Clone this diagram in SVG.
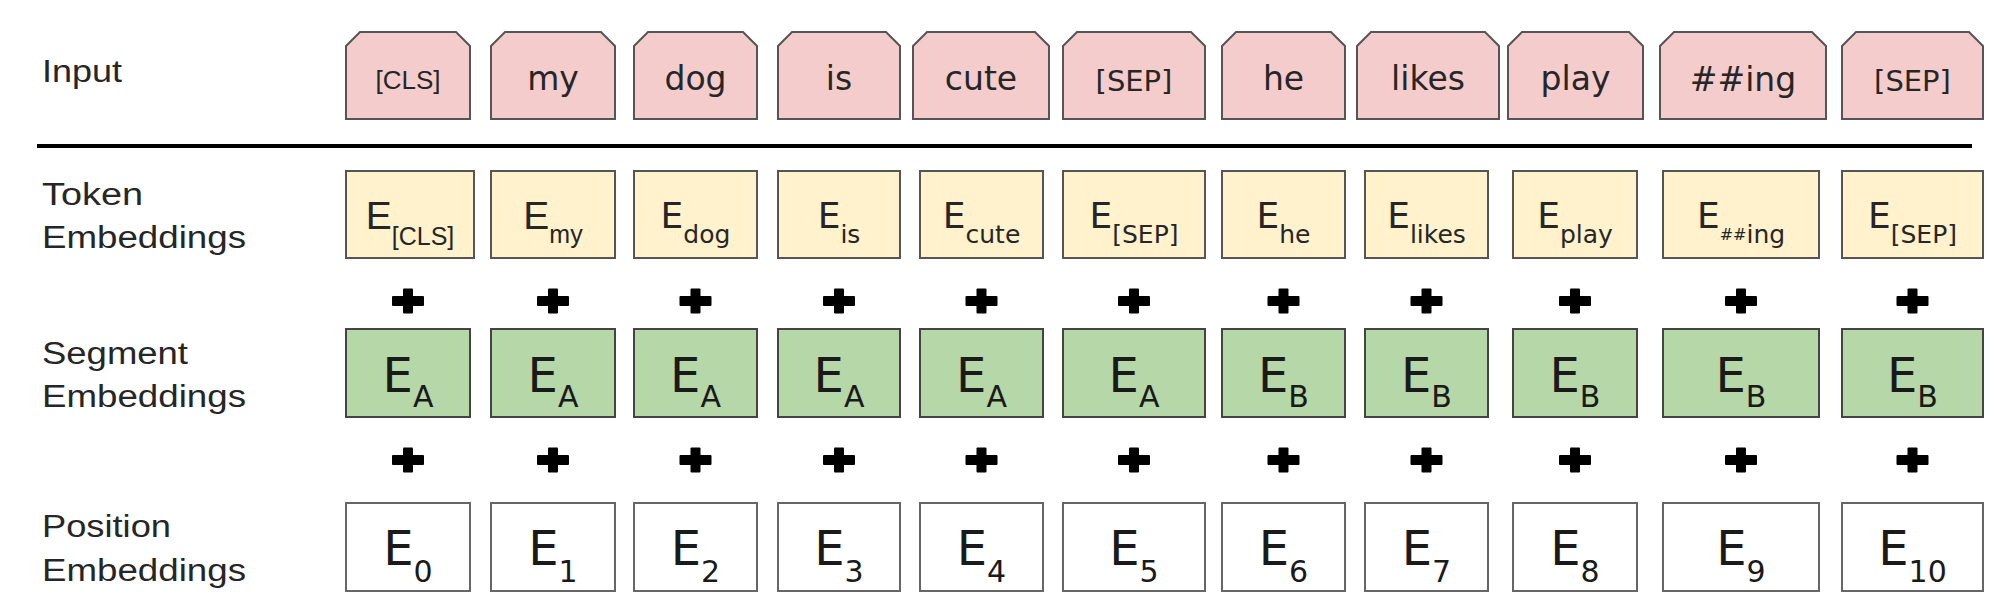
<svg xmlns="http://www.w3.org/2000/svg" xmlns:xlink="http://www.w3.org/1999/xlink" width="2000" height="608" viewBox="0 0 2000 608">
<style>
.lbl{font-family:"Liberation Sans",Arial,sans-serif;font-size:31px;fill:#262626;}
.in{fill:#f4cccc;stroke:#555;stroke-width:2;}
.tok{fill:#fff2cc;stroke:#555;stroke-width:2;}
.seg{fill:#b6d7a8;stroke:#444;stroke-width:2;}
.pos{fill:#ffffff;stroke:#666;stroke-width:2;}
.w{font-family:"DejaVu Sans",Verdana,sans-serif;font-size:33px;fill:#262626;text-anchor:middle;}
.sep{font-size:29px;}
.cls{font-family:"Liberation Sans",Arial,sans-serif;font-size:26px;}
.te{font-family:"DejaVu Sans",Verdana,sans-serif;font-size:36px;fill:#262626;text-anchor:middle;}
.ta{font-family:"Liberation Sans",Arial,sans-serif;font-size:39px;}
.big{font-family:"DejaVu Sans",Verdana,sans-serif;font-size:48px;fill:#1a1a1a;text-anchor:middle;}
.sub{font-size:25px;}
.bsub{font-size:30px;}
</style>
<defs>
<g id="plus"><rect x="-16" y="-5" width="32" height="10" rx="1"/><rect x="-5" y="-12.5" width="10" height="25" rx="1"/></g>
</defs>
<rect width="2000" height="608" fill="#ffffff"/>

<g id="labels">
<text class="lbl" x="42" y="82" textLength="80" lengthAdjust="spacingAndGlyphs">Input</text>
<text class="lbl" x="42" y="205" textLength="101" lengthAdjust="spacingAndGlyphs">Token</text>
<text class="lbl" x="42" y="248" textLength="204" lengthAdjust="spacingAndGlyphs">Embeddings</text>
<text class="lbl" x="42" y="364" textLength="146" lengthAdjust="spacingAndGlyphs">Segment</text>
<text class="lbl" x="42" y="407" textLength="204" lengthAdjust="spacingAndGlyphs">Embeddings</text>
<text class="lbl" x="42" y="537" textLength="129" lengthAdjust="spacingAndGlyphs">Position</text>
<text class="lbl" x="42" y="581" textLength="204" lengthAdjust="spacingAndGlyphs">Embeddings</text>
</g>

<line id="separator" x1="37" y1="146" x2="1972" y2="146" stroke="#000" stroke-width="4"/>

<!-- Input tokens -->
<g id="input-cls"><path class="in" d="M346,46 L360,32 L456,32 L470,46 L470,119 L346,119 Z"/><text class="w cls" x="408" y="89">[CLS]</text></g>
<g id="input-my"><path class="in" d="M491,46 L505,32 L601,32 L615,46 L615,119 L491,119 Z"/><text class="w" x="553" y="90">my</text></g>
<g id="input-dog"><path class="in" d="M634,46 L648,32 L743,32 L757,46 L757,119 L634,119 Z"/><text class="w" x="695.5" y="90">dog</text></g>
<g id="input-is"><path class="in" d="M778,46 L792,32 L886,32 L900,46 L900,119 L778,119 Z"/><text class="w" x="839" y="90">is</text></g>
<g id="input-cute"><path class="in" d="M913,46 L927,32 L1035,32 L1049,46 L1049,119 L913,119 Z"/><text class="w" x="981" y="90">cute</text></g>
<g id="input-sep1"><path class="in" d="M1063,46 L1077,32 L1191,32 L1205,46 L1205,119 L1063,119 Z"/><text class="w sep" x="1134" y="91">[SEP]</text></g>
<g id="input-he"><path class="in" d="M1222,46 L1236,32 L1331,32 L1345,46 L1345,119 L1222,119 Z"/><text class="w" x="1283.5" y="90">he</text></g>
<g id="input-likes"><path class="in" d="M1357,46 L1371,32 L1485,32 L1499,46 L1499,119 L1357,119 Z"/><text class="w" x="1428" y="90">likes</text></g>
<g id="input-play"><path class="in" d="M1508,46 L1522,32 L1629,32 L1643,46 L1643,119 L1508,119 Z"/><text class="w" x="1575.5" y="90">play</text></g>
<g id="input-ing"><path class="in" d="M1660,46 L1674,32 L1812,32 L1826,46 L1826,119 L1660,119 Z"/><text class="w" x="1743" y="91">##ing</text></g>
<g id="input-sep2"><path class="in" d="M1842,46 L1856,32 L1969,32 L1983,46 L1983,119 L1842,119 Z"/><text class="w sep" x="1912.5" y="91">[SEP]</text></g>

<!-- Token embeddings -->
<g id="tok-cls"><rect class="tok" x="346" y="171" width="128" height="87"/><text class="te ta" x="410" y="229">E<tspan class="sub" dy="16">[CLS]</tspan></text></g>
<g id="tok-my"><rect class="tok" x="491" y="171" width="124" height="87"/><text class="te ta" x="553" y="229">E<tspan class="sub" font-size="26" dy="14">my</tspan></text></g>
<g id="tok-dog"><rect class="tok" x="634" y="171" width="123" height="87"/><text class="te" x="695.5" y="228">E<tspan class="sub" dy="15">dog</tspan></text></g>
<g id="tok-is"><rect class="tok" x="778" y="171" width="122" height="87"/><text class="te" x="839" y="228">E<tspan class="sub" dy="15">is</tspan></text></g>
<g id="tok-cute"><rect class="tok" x="920" y="171" width="123" height="87"/><text class="te" x="981.5" y="228">E<tspan class="sub" dy="15">cute</tspan></text></g>
<g id="tok-sep1"><rect class="tok" x="1063" y="171" width="142" height="87"/><text class="te" x="1134" y="228">E<tspan class="sub" dy="15">[SEP]</tspan></text></g>
<g id="tok-he"><rect class="tok" x="1222" y="171" width="123" height="87"/><text class="te" x="1283.5" y="228">E<tspan class="sub" dy="15">he</tspan></text></g>
<g id="tok-likes"><rect class="tok" x="1365" y="171" width="123" height="87"/><text class="te" x="1426.5" y="228">E<tspan class="sub" dy="15">likes</tspan></text></g>
<g id="tok-play"><rect class="tok" x="1513" y="171" width="124" height="87"/><text class="te" x="1575" y="228">E<tspan class="sub" dy="15">play</tspan></text></g>
<g id="tok-ing"><rect class="tok" x="1663" y="171" width="156" height="87"/><text class="te" x="1741" y="228">E<tspan font-size="16" dy="12">##</tspan><tspan class="sub" dy="3">ing</tspan></text></g>
<g id="tok-sep2"><rect class="tok" x="1842" y="171" width="141" height="87"/><text class="te" x="1912.5" y="228">E<tspan class="sub" dy="15">[SEP]</tspan></text></g>

<!-- Segment embeddings -->
<g id="seg-1"><rect class="seg" x="346" y="329" width="124" height="88"/><text class="big" x="408" y="392">E<tspan class="bsub" dy="15">A</tspan></text></g>
<g id="seg-2"><rect class="seg" x="491" y="329" width="124" height="88"/><text class="big" x="553" y="392">E<tspan class="bsub" dy="15">A</tspan></text></g>
<g id="seg-3"><rect class="seg" x="634" y="329" width="123" height="88"/><text class="big" x="695.5" y="392">E<tspan class="bsub" dy="15">A</tspan></text></g>
<g id="seg-4"><rect class="seg" x="778" y="329" width="122" height="88"/><text class="big" x="839" y="392">E<tspan class="bsub" dy="15">A</tspan></text></g>
<g id="seg-5"><rect class="seg" x="920" y="329" width="123" height="88"/><text class="big" x="981.5" y="392">E<tspan class="bsub" dy="15">A</tspan></text></g>
<g id="seg-6"><rect class="seg" x="1063" y="329" width="142" height="88"/><text class="big" x="1134" y="392">E<tspan class="bsub" dy="15">A</tspan></text></g>
<g id="seg-7"><rect class="seg" x="1222" y="329" width="123" height="88"/><text class="big" x="1283.5" y="392">E<tspan class="bsub" dy="15">B</tspan></text></g>
<g id="seg-8"><rect class="seg" x="1365" y="329" width="123" height="88"/><text class="big" x="1426.5" y="392">E<tspan class="bsub" dy="15">B</tspan></text></g>
<g id="seg-9"><rect class="seg" x="1513" y="329" width="124" height="88"/><text class="big" x="1575" y="392">E<tspan class="bsub" dy="15">B</tspan></text></g>
<g id="seg-10"><rect class="seg" x="1663" y="329" width="156" height="88"/><text class="big" x="1741" y="392">E<tspan class="bsub" dy="15">B</tspan></text></g>
<g id="seg-11"><rect class="seg" x="1842" y="329" width="141" height="88"/><text class="big" x="1912.5" y="392">E<tspan class="bsub" dy="15">B</tspan></text></g>

<!-- Position embeddings -->
<g id="pos-0"><rect class="pos" x="346" y="503" width="124" height="88"/><text class="big" x="408" y="565">E<tspan class="bsub" dy="17">0</tspan></text></g>
<g id="pos-1"><rect class="pos" x="491" y="503" width="124" height="88"/><text class="big" x="553" y="565">E<tspan class="bsub" dy="17">1</tspan></text></g>
<g id="pos-2"><rect class="pos" x="634" y="503" width="123" height="88"/><text class="big" x="695.5" y="565">E<tspan class="bsub" dy="17">2</tspan></text></g>
<g id="pos-3"><rect class="pos" x="778" y="503" width="122" height="88"/><text class="big" x="839" y="565">E<tspan class="bsub" dy="17">3</tspan></text></g>
<g id="pos-4"><rect class="pos" x="920" y="503" width="123" height="88"/><text class="big" x="981.5" y="565">E<tspan class="bsub" dy="17">4</tspan></text></g>
<g id="pos-5"><rect class="pos" x="1063" y="503" width="142" height="88"/><text class="big" x="1134" y="565">E<tspan class="bsub" dy="17">5</tspan></text></g>
<g id="pos-6"><rect class="pos" x="1222" y="503" width="123" height="88"/><text class="big" x="1283.5" y="565">E<tspan class="bsub" dy="17">6</tspan></text></g>
<g id="pos-7"><rect class="pos" x="1365" y="503" width="123" height="88"/><text class="big" x="1426.5" y="565">E<tspan class="bsub" dy="17">7</tspan></text></g>
<g id="pos-8"><rect class="pos" x="1513" y="503" width="124" height="88"/><text class="big" x="1575" y="565">E<tspan class="bsub" dy="17">8</tspan></text></g>
<g id="pos-9"><rect class="pos" x="1663" y="503" width="156" height="88"/><text class="big" x="1741" y="565">E<tspan class="bsub" dy="17">9</tspan></text></g>
<g id="pos-10"><rect class="pos" x="1842" y="503" width="141" height="88"/><text class="big" x="1912.5" y="565">E<tspan class="bsub" dy="17">10</tspan></text></g>

<!-- plus operators between rows -->
<g id="connectors" fill="#000">
<use xlink:href="#plus" x="408" y="301"/><use xlink:href="#plus" x="553" y="301"/><use xlink:href="#plus" x="695.5" y="301"/><use xlink:href="#plus" x="839" y="301"/><use xlink:href="#plus" x="981.5" y="301"/><use xlink:href="#plus" x="1134" y="301"/><use xlink:href="#plus" x="1283.5" y="301"/><use xlink:href="#plus" x="1426.5" y="301"/><use xlink:href="#plus" x="1575" y="301"/><use xlink:href="#plus" x="1741" y="301"/><use xlink:href="#plus" x="1912.5" y="301"/>
<use xlink:href="#plus" x="408" y="460"/><use xlink:href="#plus" x="553" y="460"/><use xlink:href="#plus" x="695.5" y="460"/><use xlink:href="#plus" x="839" y="460"/><use xlink:href="#plus" x="981.5" y="460"/><use xlink:href="#plus" x="1134" y="460"/><use xlink:href="#plus" x="1283.5" y="460"/><use xlink:href="#plus" x="1426.5" y="460"/><use xlink:href="#plus" x="1575" y="460"/><use xlink:href="#plus" x="1741" y="460"/><use xlink:href="#plus" x="1912.5" y="460"/>
</g>
</svg>
